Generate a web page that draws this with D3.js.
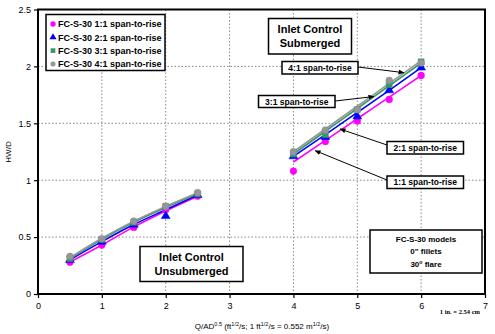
<!DOCTYPE html>
<html><head><meta charset="utf-8">
<script src="https://cdn.jsdelivr.net/npm/d3@7"></script>
<style>body{margin:0;background:#fff}svg{display:block;font-family:"Liberation Sans",Arial,sans-serif}</style>
</head><body><svg id="c" width="495" height="334"></svg>
<script>
const seriesNames = ["FC-S-30 1:1 span-to-rise","FC-S-30 2:1 span-to-rise","FC-S-30 3:1 span-to-rise","FC-S-30 4:1 span-to-rise"];
const xUnsub = [0.5,1,1.5,2,2.5];
const xSub = [4,4.5,5,5.5,6];
const ptsUnsub = [
  [0.28,0.43,0.585,0.74,0.86],
  [0.30,0.46,0.61,0.685,0.87],
  [0.31,0.48,0.63,0.77,0.88],
  [0.33,0.485,0.64,0.77,0.89]];
const ptsSub = [
  [1.08,1.34,1.52,1.71,1.92],
  [1.21,1.38,1.56,1.79,1.99],
  [1.23,1.40,1.62,1.84,2.04],
  [1.25,1.44,1.62,1.877,2.03]];
const fitUnsub = [
  [0.28,0.43,0.59,0.73,0.86],
  [0.30,0.46,0.61,0.74,0.87],
  [0.31,0.48,0.63,0.76,0.88],
  [0.32,0.49,0.64,0.77,0.89]];
const fitSub = [
  [1.16,1.35,1.54,1.73,1.92],
  [1.21,1.40,1.595,1.79,1.99],
  [1.23,1.43,1.63,1.83,2.03],
  [1.25,1.45,1.65,1.85,2.05]];
const xTicks = [0,1,2,3,4,5,6,7];
const yTicks = [0,0.5,1,1.5,2,2.5];
const colors = ["#ff00ff","#0000ff","#339966","#969696"];
const shapes = [d3.symbolCircle,d3.symbolTriangle,d3.symbolSquare,d3.symbolCircle];

const svg = d3.select("#c");
const L=38,R=485,T=9.5,B=294;
const x = d3.scaleLinear().domain([0,7]).range([L,R]);
const y = d3.scaleLinear().domain([0,2.5]).range([B,T]);

// grid
const g = svg.append("g");
g.selectAll(".gx").data(xTicks.filter(d=>d>0&&d<7)).enter().append("line")
 .attr("x1",d=>x(d)).attr("x2",d=>x(d)).attr("y1",T).attr("y2",B)
 .attr("stroke","#888").attr("stroke-width",1).attr("stroke-dasharray","1.5,2");
g.selectAll(".gy").data(yTicks.filter(d=>d>0&&d<2.5)).enter().append("line")
 .attr("x1",L).attr("x2",R).attr("y1",d=>y(d)).attr("y2",d=>y(d))
 .attr("stroke","#888").attr("stroke-width",1).attr("stroke-dasharray","1.5,2");

// axes
const xa = svg.append("g").attr("transform",`translate(0,${B})`)
 .call(d3.axisBottom(x).tickValues(xTicks).tickSize(4).tickFormat(d3.format("d")));
const ya = svg.append("g").attr("transform",`translate(${L},0)`)
 .call(d3.axisLeft(y).tickValues(yTicks).tickSize(4).tickFormat(d=>d));
[xa,ya].forEach(a=>{a.select(".domain").remove();
 a.selectAll("line").attr("stroke","#000").attr("stroke-width",1.2);
 a.selectAll("text").attr("font-size",9).attr("font-family","Liberation Sans, Arial").attr("fill","#000");});
xa.selectAll("text").attr("dy","0.9em");
// frame
svg.append("rect").attr("x",L).attr("y",T).attr("width",R-L).attr("height",B-T)
 .attr("fill","none").attr("stroke","#000").attr("stroke-width",2);

// series
const line = d3.line().x(d=>x(d[0])).y(d=>y(d[1])).curve(d3.curveMonotoneX);
const sym = (i)=>d3.symbol().type(shapes[i]).size(i===1?34:36)();
for(let i=0;i<4;i++){
  svg.append("path").datum(xUnsub.map((v,k)=>[v,fitUnsub[i][k]])).attr("d",line)
   .attr("fill","none").attr("stroke",colors[i]).attr("stroke-width",1.6);
  svg.append("path").datum(xSub.map((v,k)=>[v,fitSub[i][k]])).attr("d",line)
   .attr("fill","none").attr("stroke",colors[i]).attr("stroke-width",1.6);
}
for(let i=0;i<4;i++){
  const pts = xUnsub.map((v,k)=>[v,ptsUnsub[i][k]]).concat(xSub.map((v,k)=>[v,ptsSub[i][k]]));
  svg.selectAll(null).data(pts).enter().append("path")
   .attr("d",sym(i)).attr("transform",d=>`translate(${x(d[0])},${y(d[1])})`)
   .attr("fill",colors[i]).attr("stroke",i===3?"#888":colors[i]).attr("stroke-width",0.5);
}

// legend
svg.append("rect").attr("x",46).attr("y",14.5).attr("width",119).attr("height",56)
 .attr("fill","#fff").attr("stroke","#000").attr("stroke-width",1.5);
seriesNames.forEach((n,i)=>{
  const yy = 24+i*13.3;
  svg.append("path").attr("d",d3.symbol().type(shapes[i]).size(i===3?20:22)())
   .attr("transform",`translate(53,${yy})`).attr("fill",colors[i]);
  svg.append("text").attr("x",58).attr("y",yy+3.3).attr("font-size",9).attr("font-weight","bold").text(n);
});

// boxes
function box(x0,y0,w,h,lines,fs,lh,sw){
  svg.append("rect").attr("x",x0).attr("y",y0).attr("width",w).attr("height",h)
   .attr("fill","#fff").attr("stroke","#000").attr("stroke-width",sw);
  lines.forEach((t,i)=>{
    const tx = svg.append("text").attr("x",x0+w/2).attr("y",y0+h/2+(i-(lines.length-1)/2)*lh+fs*0.35)
     .attr("text-anchor","middle").attr("font-size",fs).attr("font-weight","bold");
    t.forEach(p=>{const s=tx.append("tspan").text(p.t); if(p.sup){s.attr("font-size",fs*0.65).attr("dy",-fs*0.4);} else if(p.after){s.attr("dy",fs*0.4);} });
  });
}
box(268.5,18.5,83,35.5,[[{t:"Inlet Control"}],[{t:"Submerged"}]],11,14,1.5);
box(140,246.5,103,35,[[{t:"Inlet Control"}],[{t:"Unsubmerged"}]],11,14,1.5);
box(370,230,112,43,[[{t:"FC-S-30 models"}],[{t:"0\" fillets"}],[{t:"30"},{t:"o",sup:true},{t:" flare",after:true}]],8,12.5,1.5);

// callouts
svg.append("defs").append("marker").attr("id","ah").attr("viewBox","0 0 10 10").attr("refX",9).attr("refY",5)
 .attr("markerWidth",6).attr("markerHeight",6).attr("orient","auto")
 .append("path").attr("d","M0,1L10,5L0,9z").attr("fill","#000");
const callouts = [
  {t:"4:1 span-to-rise",bx:282,by:61.5,w:76,h:12.5,from:[358,67],to:[5.73,1.945]},
  {t:"3:1 span-to-rise",bx:258.5,by:95.5,w:76.5,h:12,from:[335,101],to:[5.26,1.735]},
  {t:"2:1 span-to-rise",bx:387,by:141.5,w:76.5,h:12.5,from:[387,145],to:[4.73,1.45]},
  {t:"1:1 span-to-rise",bx:387,by:176,w:76.5,h:12.5,from:[387,180],to:[4.34,1.26]}];
callouts.forEach(c=>{
  svg.append("line").attr("x1",c.from[0]).attr("y1",c.from[1]).attr("x2",x(c.to[0])).attr("y2",y(c.to[1]))
   .attr("stroke","#000").attr("stroke-width",1).attr("marker-end","url(#ah)");
  svg.append("rect").attr("x",c.bx).attr("y",c.by).attr("width",c.w).attr("height",c.h)
   .attr("fill","#fff").attr("stroke","#000").attr("stroke-width",1.5);
  svg.append("text").attr("x",c.bx+c.w/2).attr("y",c.by+c.h/2+3).attr("text-anchor","middle")
   .attr("font-size",8.5).attr("font-weight","bold").text(c.t);
});

// axis titles
svg.append("text").attr("transform","translate(11,152) rotate(-90)").attr("text-anchor","middle")
 .attr("font-size",8).text("HW/D");
const xt = svg.append("text").attr("x",262).attr("y",329).attr("text-anchor","middle").attr("font-size",8);
[["Q/AD",0],["0.5",1],[" (ft",0],["1/2",1],["/s; 1 ft",0],["1/2",1],["/s = 0.552 m",0],["1/2",1],["/s)",0]].forEach(([t,s],i,arr)=>{
  const sp = xt.append("tspan").text(t);
  if(s){sp.attr("font-size",5.5).attr("dy",-3);} else if(i>0){sp.attr("dy",3);}
});
svg.append("text").attr("x",480).attr("y",314).attr("text-anchor","end").attr("font-size",6.5)
 .attr("font-family","Liberation Serif, serif").attr("font-weight","bold").text("1 in. = 2.54 cm");
</script></body></html>
